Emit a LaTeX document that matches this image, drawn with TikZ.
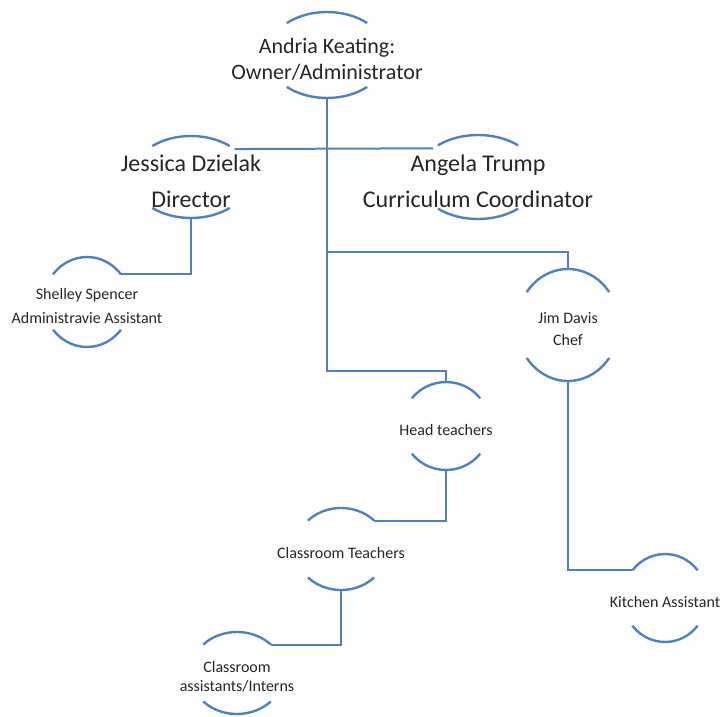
\documentclass[tikz,border=0pt]{standalone}
\usepackage{fontspec}
\setmainfont{Carlito}
\usetikzlibrary{positioning,calc}
\definecolor{lineblue}{HTML}{4F81BD}
\definecolor{inkgray}{HTML}{262626}

\tikzset{
  bigname/.style={align=center, font=\fontsize{12}{14.5}\selectfont, text=inkgray, inner sep=0pt},
  smallname/.style={align=center, font=\fontsize{8}{9.5}\selectfont, text=inkgray, inner sep=0pt},
  link/.style={draw=lineblue, line width=1pt},
  rim/.style={draw=lineblue, line width=1.2pt},
}

% arcs above and below a name: #1 node, #2 x radius, #3 y radius, #4 angle where an arc stops
\newcommand{\rims}[4]{%
  \coordinate (#1-mid) at ($(#1)+(0,-4)$);
  \draw[rim] ($(#1-mid)+({-#2*cos(#4)},{-#3*sin(#4)})$) coordinate (#1-tl)
    arc[start angle={-180+#4}, end angle=-#4, x radius=#2, y radius=#3] coordinate (#1-tr);
  \draw[rim] ($(#1-mid)+({-#2*cos(#4)},{#3*sin(#4)})$) coordinate (#1-bl)
    arc[start angle={180-#4}, end angle=#4, x radius=#2, y radius=#3];
  \coordinate (#1-top) at ($(#1-mid)+(0,-#3)$);
  \coordinate (#1-bot) at ($(#1-mid)+(0,#3)$);
}

\begin{document}
\begin{tikzpicture}[x=1pt, y=1pt, xscale=0.5, yscale=-0.5]
  \useasboundingbox (0,0) rectangle (723,717);

  % people
  \node[bigname, font=\fontsize{11}{13}\selectfont] (andria) at (327,59) {Andria Keating:\\Owner/Administrator};
  \node[bigname] (jessica) at (191,181) {Jessica Dzielak\\[3.5pt]Director};
  \node[bigname] (angela) at (478,181) {Angela Trump\\[3.5pt]Curriculum Coordinator};
  \node[smallname] (shelley) at (87,306) {Shelley Spencer\\[2.5pt]Administravie Assistant};
  \node[smallname] (jim) at (568,329) {Jim Davis\\[1.5pt]Chef};
  \node[smallname] (head) at (446,430) {Head teachers};
  \node[smallname] (classteach) at (341,553) {Classroom Teachers};
  \node[smallname] (assist) at (237,677) {Classroom\\assistants/Interns};
  \node[smallname] (kitchen) at (665,602) {Kitchen Assistant};

  \rims{andria}{60}{43}{48}
  \rims{jessica}{59}{41}{49}
  \rims{angela}{61}{42}{49}
  \rims{shelley}{43}{45}{38}
  \rims{jim}{51}{56}{36}
  \rims{head}{44}{44}{39}
  \rims{classteach}{46}{41}{44}
  \rims{assist}{47}{41}{44}
  \rims{kitchen}{42}{44}{39}

  % lines
  \draw[link] (andria-bot) -- ++(0,273) -| (head-top);
  \draw[link] ([shift={(5,3)}]jessica-tr) -- ([shift={(-5,3)}]angela-tl);
  \draw[link] (jim-top) -- ++(0,-17) -| (andria-bot);
  \draw[link] (jessica-bot) |- (shelley-tr);
  \draw[link] (head-bot) |- (classteach-tr);
  \draw[link] (classteach-bot) |- (assist-tr);
  \draw[link] (jim-bot) |- (kitchen-tl);
\end{tikzpicture}
\end{document}
